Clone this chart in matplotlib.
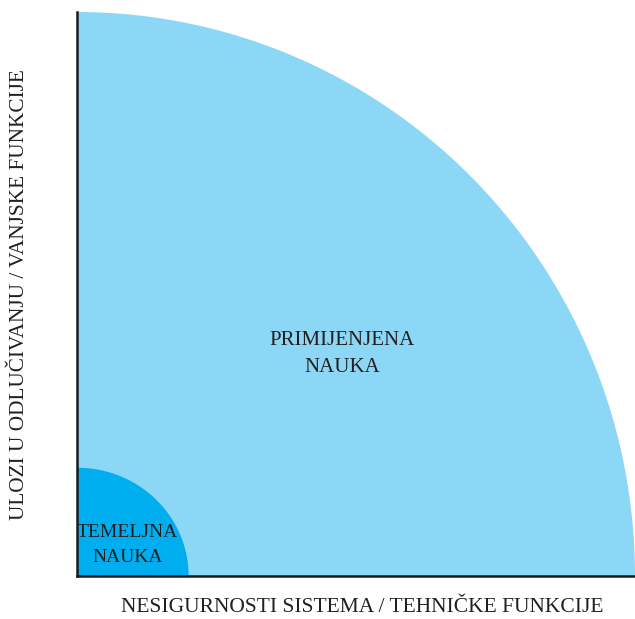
import matplotlib
matplotlib.use("Agg")
import matplotlib.pyplot as plt
import numpy as np
from matplotlib.patches import Polygon

# Data
regions = ["PRIMIJENJENA\nNAUKA", "TEMELJNA\nNAUKA"]
radii_x = [1.0, 0.2]
radii_y = [1.0, 0.192]
colors = ["#8DD7F6", "#00AEEF"]
label_pos = [(0.475, 0.393), (0.091, 0.055)]
label_sizes = [15, 14]
xlabel = "NESIGURNOSTI SISTEMA / TEHNIČKE FUNKCIJE"
ylabel = "ULOZI U ODLUČIVANJU / VANJSKE FUNKCIJE"

plt.rcParams['font.family'] = ['Liberation Serif', 'DejaVu Serif']

fig = plt.figure(figsize=(6.35, 6.19), dpi=100)
ax = fig.add_axes([77/635, 43/619, 558/635, 564/619])
ax.set_xlim(0, 1)
ax.set_ylim(0, 1)

theta = np.linspace(0, np.pi / 2, 200)
for rx, ry, c in zip(radii_x, radii_y, colors):
    pts = np.vstack([[0, 0], np.column_stack([rx * np.cos(theta), ry * np.sin(theta)])])
    ax.add_patch(Polygon(pts, closed=True, facecolor=c, edgecolor='none'))

for (x, y), t, fs in zip(label_pos, regions, label_sizes):
    ax.text(x, y, t, ha='center', va='center', fontsize=fs, color='#231F20',
            linespacing=1.55)

for s in ['top', 'right']:
    ax.spines[s].set_visible(False)
for s in ['left', 'bottom']:
    ax.spines[s].set_linewidth(1.8)
    ax.spines[s].set_color('#1a1a1a')
ax.set_xticks([])
ax.set_yticks([])

fig.text(362/635, 1 - 607/619, xlabel, ha='center', va='center', fontsize=15.5, color='#231F20')
fig.text(20/635, 1 - 295/619, ylabel, ha='center', va='center', rotation=90, fontsize=15.3, color='#231F20')

fig.savefig("out.png", dpi=100)
